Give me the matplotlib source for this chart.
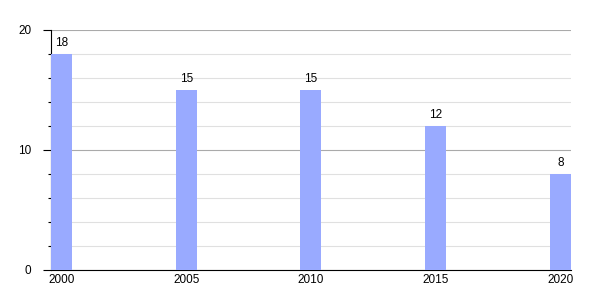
import numpy as np
import matplotlib.pyplot as plt
from matplotlib.ticker import MultipleLocator

# datos
years = ['2000', '2005', '2010', '2015', '2020']
values = [18, 15, 15, 12, 8]

plt.rcParams['font.family'] = ['Liberation Sans', 'DejaVu Sans']

fig = plt.figure(figsize=(6, 3), dpi=100)
ax = fig.add_axes([51/600, 30/300, 520/600, 240/300])

x = np.arange(len(years))
w = 84/499
ax.bar(x, values, width=w, color='#99aaff', zorder=3)
for xi, v in zip(x, values):
    ax.text(xi, v + 0.4, str(v), ha='center', va='bottom', fontsize=8.5, color='black')

ax.set_xlim(-w/2, len(years) - 1 + w/2)
ax.set_ylim(0, 20)
ax.set_xticks(x)
ax.set_xticklabels(years)
ax.tick_params(axis='x', length=0, pad=3, labelsize=8.5, labelcolor='black')

#lineas de la rejilla
ax.yaxis.set_major_locator(MultipleLocator(10))
ax.yaxis.set_minor_locator(MultipleLocator(2))
ax.grid(which='major', axis='y', color='#aaaaaa', linewidth=0.8, zorder=1)
ax.grid(which='minor', axis='y', color='#e0e0e0', linewidth=0.8, zorder=1)
ax.tick_params(axis='y', which='major', length=6, width=0.8, pad=8, labelsize=8.5)
ax.tick_params(axis='y', which='minor', length=2.5, width=0.8)

for s in ['top', 'right']:
    ax.spines[s].set_visible(False)
ax.spines['left'].set_color('black')
ax.spines['bottom'].set_color('black')

fig.savefig('out.png', dpi=100)
